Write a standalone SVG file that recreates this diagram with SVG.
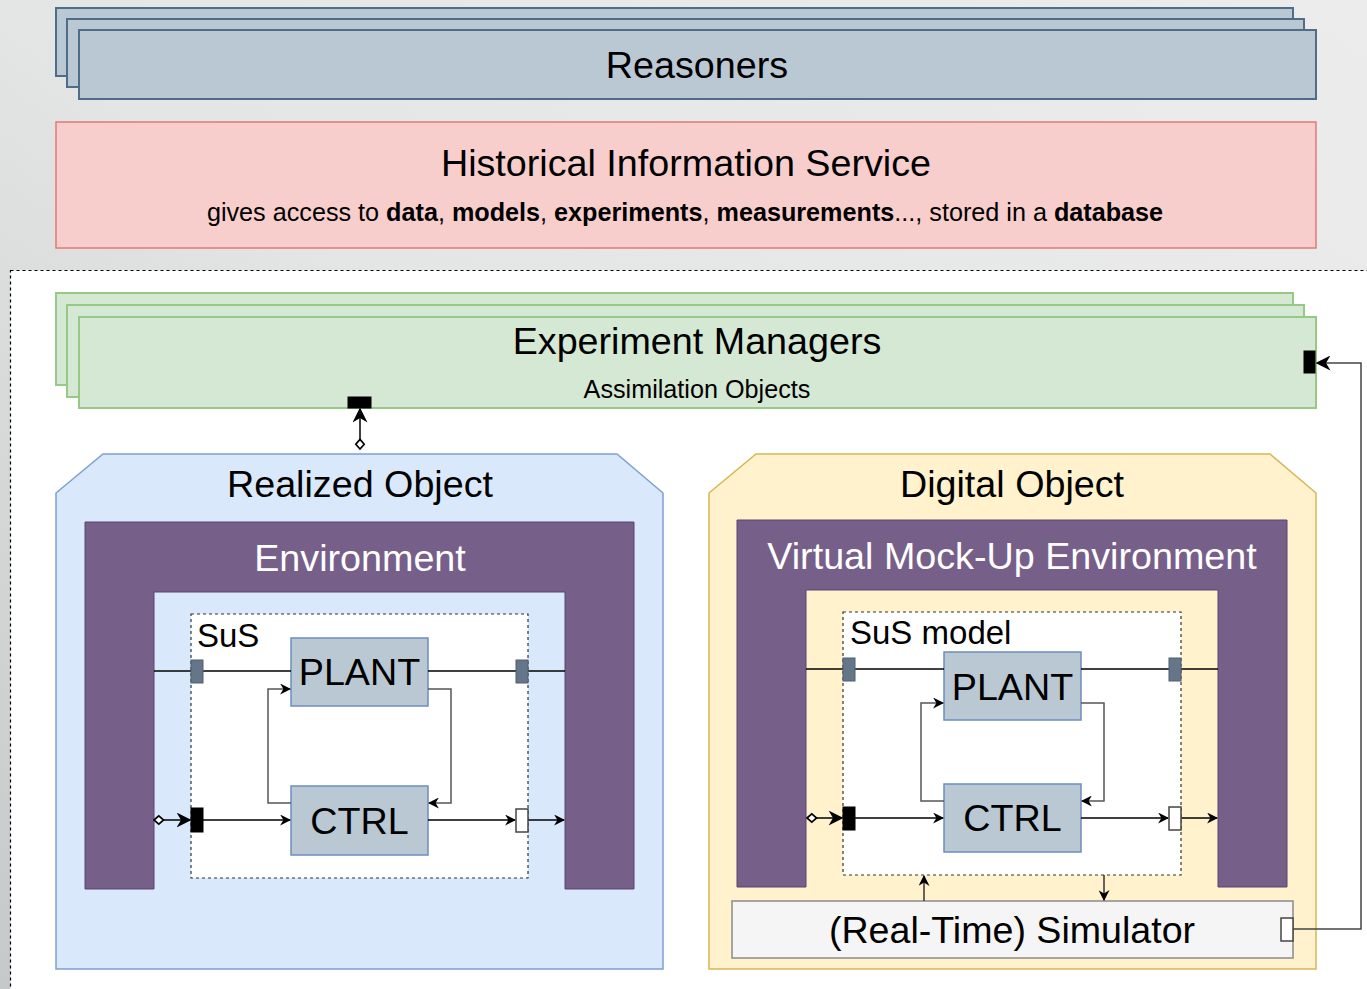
<svg xmlns="http://www.w3.org/2000/svg" width="1367" height="989" viewBox="0 0 1367 989">
<defs>
<linearGradient id="bg" x1="1" y1="0" x2="0" y2="1">
<stop offset="0" stop-color="#ececec"/>
<stop offset="0.5" stop-color="#e4e5e5"/>
<stop offset="1" stop-color="#c6c9c9"/>
</linearGradient>
<marker id="arr" viewBox="0 0 10 10" refX="9" refY="5" markerWidth="11" markerHeight="11" markerUnits="userSpaceOnUse" orient="auto">
<path d="M0,0 L10,5 L0,10 L3,5 Z" fill="#000"/>
</marker>
<marker id="arrB" viewBox="0 0 10 10" refX="9" refY="5" markerWidth="15" markerHeight="15" markerUnits="userSpaceOnUse" orient="auto">
<path d="M0,0 L10,5 L0,10 L3,5 Z" fill="#000"/>
</marker>
<marker id="dia" viewBox="0 0 10 10" refX="1" refY="5" markerWidth="12" markerHeight="12" markerUnits="userSpaceOnUse" orient="auto">
<path d="M1,5 L5,1.5 L9,5 L5,8.5 Z" fill="#fff" stroke="#000" stroke-width="1.4"/>
</marker>
</defs>
<style>
text{font-family:"Liberation Sans",Arial,sans-serif;fill:#000}
.blue{fill:#bac8d3;stroke:#4f6d88;stroke-width:2}
.green{fill:#d5e8d4;stroke:#96c886;stroke-width:2}
.box{fill:#bac8d3;stroke:#6c8ebf;stroke-width:1.5}
.env{fill:#76608a;stroke:#5b4570;stroke-width:1}
.sus{fill:#fff;stroke:#333;stroke-width:1.2;stroke-dasharray:3,3}
.gport{fill:#647687;stroke:#4f6070;stroke-width:1}
.bport{fill:#000;stroke:#000;stroke-width:1}
.wport{fill:#fff;stroke:#444;stroke-width:1.5}
.ln{fill:none;stroke:#000;stroke-width:1.5}
.ln2{fill:none;stroke:#555;stroke-width:1.5}
.t37{font-size:37.7px;text-anchor:middle}
.w{fill:#fff}
</style>
<rect x="0" y="0" width="1367" height="989" fill="url(#bg)"/>
<rect x="10.5" y="270.5" width="1400" height="800" fill="#fff" stroke="#000" stroke-width="1.2" stroke-dasharray="3,3"/>

<g id="reasoners">
<rect class="blue" x="56" y="8" width="1237" height="68"/>
<rect class="blue" x="67" y="19" width="1237" height="68"/>
<rect class="blue" x="79" y="30" width="1237" height="69"/>
<text class="t37" x="697" y="78">Reasoners</text>
</g>

<g id="his">
<rect x="56" y="122" width="1260" height="126" fill="#f8cecc" stroke="#e07a76" stroke-width="1.5"/>
<text class="t37" x="686" y="176">Historical Information Service</text>
<text x="685" y="221" font-size="25.2" text-anchor="middle">gives access to <tspan font-weight="bold">data</tspan>, <tspan font-weight="bold">models</tspan>, <tspan font-weight="bold">experiments</tspan>, <tspan font-weight="bold">measurements</tspan>..., stored in a <tspan font-weight="bold">database</tspan></text>
</g>

<g id="expmgr">
<rect class="green" x="56" y="293" width="1237" height="92"/>
<rect class="green" x="67" y="305" width="1237" height="92"/>
<rect class="green" x="79" y="317" width="1237" height="91"/>
<text class="t37" x="697" y="354">Experiment Managers</text>
<text x="697" y="398" font-size="25.2" text-anchor="middle">Assimilation Objects</text>
<rect class="bport" x="348" y="397" width="23" height="11"/>
<rect class="bport" x="1304" y="351" width="11" height="22"/>
</g>

<g id="realized">
<path d="M56,493 L103,454 L617,454 L663,493 L663,969 L56,969 Z" fill="#dae8fc" stroke="#7e9fd0" stroke-width="1.5"/>
<text class="t37" x="360" y="497">Realized Object</text>
<path class="env" d="M85,522 H634 V889 H565 V592 H154 V889 H85 Z"/>
<text class="t37 w" x="360" y="571">Environment</text>
<rect class="sus" x="191" y="614" width="337" height="264"/>
<text x="197" y="647" font-size="33">SuS</text>
<g id="plant1"><rect class="box" x="291" y="638" width="137" height="68"/><text class="t37" x="359.5" y="685">PLANT</text></g>
<g id="ctrl1"><rect class="box" x="291" y="786" width="137" height="69"/><text class="t37" x="359.5" y="834">CTRL</text></g>
</g>

<g id="digital">
<path d="M709,493 L756,454 L1270,454 L1316,493 L1316,969 L709,969 Z" fill="#fff2cc" stroke="#d6b656" stroke-width="1.5"/>
<text class="t37" x="1012" y="497">Digital Object</text>
<path class="env" d="M737,520 H1287 V887 H1218 V590 H806 V887 H737 Z"/>
<text class="t37 w" x="1012" y="569">Virtual Mock-Up Environment</text>
<rect class="sus" x="843" y="612" width="338" height="263"/>
<text x="850" y="644" font-size="33">SuS model</text>
<g id="plant2"><rect class="box" x="944" y="652" width="137" height="68"/><text class="t37" x="1012.5" y="700">PLANT</text></g>
<g id="ctrl2"><rect class="box" x="944" y="784" width="137" height="68"/><text class="t37" x="1012.5" y="831">CTRL</text></g>
</g>

<g id="simulator">
<rect x="732" y="901" width="561" height="57" fill="#f5f5f5" stroke="#8a8a8a" stroke-width="1.5"/>
<text x="1012" y="943" font-size="37.6" text-anchor="middle" fill="#333">(Real-Time) Simulator</text>
</g>

<g id="connectors">
<line class="ln" x1="360" y1="449" x2="360" y2="409" marker-start="url(#dia)" marker-end="url(#arrB)"/>
<path class="ln2" d="M1293,929 H1361 V363 H1317" marker-end="url(#arrB)" style="stroke:#444"/>
<line class="ln" x1="154" y1="671" x2="291" y2="671"/>
<line class="ln" x1="428" y1="671" x2="565" y2="671"/>
<path class="ln2" d="M428,689 H451 V803 H429" marker-end="url(#arr)"/>
<path class="ln2" d="M291,803 H268 V689 H290" marker-end="url(#arr)"/>
<line class="ln" x1="154" y1="820" x2="190" y2="820" marker-start="url(#dia)" marker-end="url(#arrB)"/>
<line class="ln" x1="203" y1="820" x2="290" y2="820" marker-end="url(#arr)"/>
<line class="ln" x1="428" y1="820" x2="515" y2="820" marker-end="url(#arr)"/>
<line class="ln" x1="528" y1="820" x2="564" y2="820" marker-end="url(#arr)"/>
<line class="ln" x1="806" y1="669" x2="944" y2="669"/>
<line class="ln" x1="1081" y1="669" x2="1218" y2="669"/>
<path class="ln2" d="M1081,703 H1104 V801 H1082" marker-end="url(#arr)"/>
<path class="ln2" d="M944,801 H921 V703 H943" marker-end="url(#arr)"/>
<line class="ln" x1="807" y1="818" x2="842" y2="818" marker-start="url(#dia)" marker-end="url(#arrB)"/>
<line class="ln" x1="855" y1="818" x2="943" y2="818" marker-end="url(#arr)"/>
<line class="ln" x1="1081" y1="818" x2="1168" y2="818" marker-end="url(#arr)"/>
<line class="ln" x1="1181" y1="818" x2="1217" y2="818" marker-end="url(#arr)"/>
<line class="ln2" x1="924" y1="901" x2="924" y2="876" marker-end="url(#arr)" style="stroke:#333"/>
<line class="ln2" x1="1104" y1="875" x2="1104" y2="900" marker-end="url(#arr)" style="stroke:#333"/>
</g>

<g id="ports">
<rect class="gport" x="191" y="660" width="12" height="23"/>
<rect class="gport" x="516" y="660" width="12" height="23"/>
<rect class="bport" x="191" y="808" width="12" height="24"/>
<rect class="wport" x="516" y="809" width="12" height="23"/>
<rect class="gport" x="843" y="658" width="12" height="23"/>
<rect class="gport" x="1169" y="658" width="12" height="23"/>
<rect class="bport" x="843" y="807" width="12" height="23"/>
<rect class="wport" x="1169" y="807" width="12" height="23"/>
<rect class="wport" x="1281" y="918" width="12" height="23"/>
</g>
</svg>
